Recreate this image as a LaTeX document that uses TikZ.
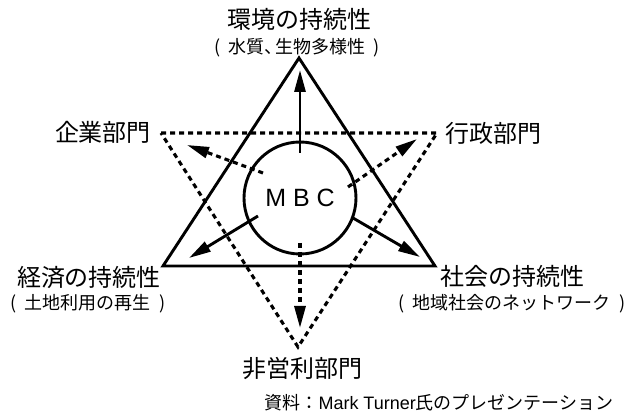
\documentclass[tikz,border=0pt]{standalone}
\usepackage{fontspec}
\setmainfont{Noto Sans CJK JP}
\newfontfamily\lat{Liberation Sans}
\usetikzlibrary{arrows.meta}
\begin{document}
\begin{tikzpicture}[x=1pt,y=-1pt,
  solidline/.style={line width=2.9pt},
  dashline/.style={line width=3.1pt, dash pattern=on 5pt off 4pt},
  tipped/.style={-{Triangle[length=22pt,width=11pt]}},
  big/.style={font=\fontsize{24}{28}\selectfont, inner sep=0pt},
  small/.style={font=\fontsize{18}{21}\selectfont, inner sep=0pt}]
\useasboundingbox (0,0) rectangle (641,419);
% triangles
\coordinate (A) at (299,58);
\coordinate (B) at (163,266);
\coordinate (C) at (435,266);
\coordinate (D) at (161,133);
\coordinate (E) at (437,133);
\coordinate (F) at (298,347);
\draw[solidline, line join=miter] (A) -- (B) -- (C) -- cycle;
\draw[dashline, line join=miter] (D) -- (E) -- (F) -- cycle;
% circle
\node[circle, draw, line width=2.9pt, minimum size=112pt, inner sep=0pt] (mbc) at (300,198)
  {\lat\fontsize{25}{28}\selectfont M B C};
% arrow ends
\coordinate (s1) at (300,153); \coordinate (t1) at (300,70);
\coordinate (s2) at (258,216); \coordinate (t2) at (189,258);
\coordinate (s3) at (353,218); \coordinate (t3) at (420,257);
\coordinate (s4) at (300,243); \coordinate (t4) at (300,328);
\coordinate (s5) at (263,173); \coordinate (t5) at (187,145);
\coordinate (s6) at (348,187); \coordinate (t6) at (417,139);
\draw[solidline, tipped] (s1) -- (t1);
\draw[solidline, tipped] (s2) -- (t2);
\draw[solidline, tipped] (s3) -- (t3);
\draw[dashline, tipped] (s4) -- (t4);
\draw[dashline, tipped] (s5) -- (t5);
\draw[dashline, tipped] (s6) -- (t6);
% labels
\node[big] (env) at (299,19) {環境の持続性};
\node[small] (envs) at (297,48) {(\hspace{.45em}水質、\hspace{-.4em}生物多様性\hspace{.45em})};
\node[big] (corp) at (103,132) {企業部門};
\node[big] (gov) at (493,133) {行政部門};
\node[big] (eco) at (89,277) {経済の持続性};
\node[small] (ecos) at (88,304) {(\hspace{.45em}土地利用の再生\hspace{.45em})};
\node[big] (soc) at (512,276) {社会の持続性};
\node[small] (socs) at (512,304) {(\hspace{.45em}地域社会のネットワーク\hspace{.45em})};
\node[big] (npo) at (302,368) {非営利部門};
\node[small] (src) at (439,403) {資料：{\lat Mark Turner}氏のプレゼンテーション};
\end{tikzpicture}
\end{document}
